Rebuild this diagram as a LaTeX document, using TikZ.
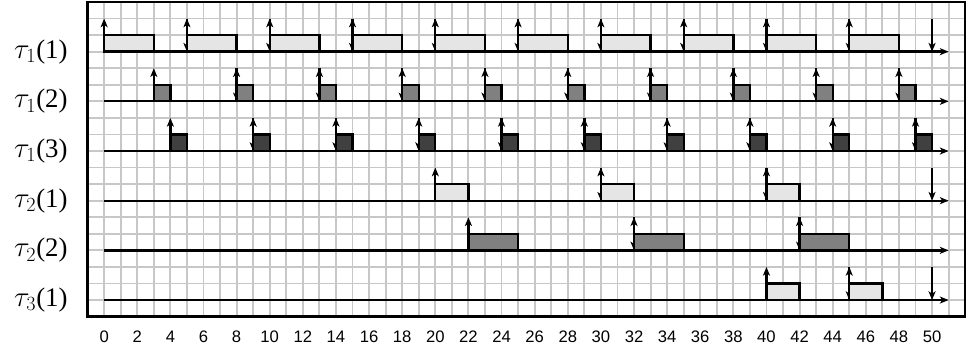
\documentclass[tikz,border=0pt]{standalone}
\usepackage{fontspec}
\setmainfont{Liberation Serif}
\setsansfont{Liberation Sans}
\usetikzlibrary{arrows.meta}

\begin{document}
\begin{tikzpicture}[x=0.5cm, y=0.5cm, >={Stealth[length=7.5pt, width=6pt, inset=2pt]},
  gridline/.style={black!22, line width=1.6pt},
  blackline/.style={line width=2pt},
  job/.style={draw, line width=2pt},
  lightjob/.style={job, fill=black!10},
  midjob/.style={job, fill=black!50},
  darkjob/.style={job, fill=black!75},
  rowlabel/.style={anchor=east, inner sep=0pt, font=\fontsize{23}{23}\selectfont},
  ticklabel/.style={inner sep=0pt, font=\sffamily\fontsize{14.3}{14.3}\selectfont}]
  \useasboundingbox (-6.29,-2.06) rectangle (52.05,19.12);

  % grid and frame
  \draw[gridline, step=0.5cm] (-1,0) grid (52,19);
  \draw[blackline] (-1,0) rectangle (52,19);

  % time lines and labels
  \foreach \y/\i/\k in {16/1/1, 13/1/2, 10/1/3, 7/2/1, 4/2/2, 1/3/1} {
    \node[rowlabel] (lab\i\k) at (-2.2,\y) {$\tau_{\i}$(\k)};
    \draw[->, blackline] (0,\y) -- (51,\y);
  }

  % tau_1(1): releases every 5, runs 3
  \foreach \d in {5,10,...,50} \draw[->, blackline] (\d,18) -- (\d,16);
  \foreach \r in {0,5,...,45} {
    \draw[lightjob] (\r,16) rectangle (\r+3,17);
    \draw[->, blackline] (\r,16) -- (\r,18);
  }

  % tau_1(2)
  \foreach \d in {8,13,...,48} \draw[->, blackline] (\d,15) -- (\d,13);
  \foreach \r in {3,8,...,48} {
    \draw[midjob] (\r,13) rectangle (\r+1,14);
    \draw[->, blackline] (\r,13) -- (\r,15);
  }

  % tau_1(3)
  \foreach \d in {9,14,...,49} \draw[->, blackline] (\d,12) -- (\d,10);
  \foreach \r in {4,9,...,49} {
    \draw[darkjob] (\r,10) rectangle (\r+1,11);
    \draw[->, blackline] (\r,10) -- (\r,12);
  }

  % tau_2(1)
  \foreach \d in {30,40,50} \draw[->, blackline] (\d,9) -- (\d,7);
  \foreach \r in {20,30,40} {
    \draw[lightjob] (\r,7) rectangle (\r+2,8);
    \draw[->, blackline] (\r,7) -- (\r,9);
  }

  % tau_2(2)
  \foreach \d in {32,42} \draw[->, blackline] (\d,6) -- (\d,4);
  \foreach \r in {22,32,42} {
    \draw[midjob] (\r,4) rectangle (\r+3,5);
    \draw[->, blackline] (\r,4) -- (\r,6);
  }

  % tau_3(1)
  \foreach \d in {45,50} \draw[->, blackline] (\d,3) -- (\d,1);
  \foreach \r in {40,45} {
    \draw[lightjob] (\r,1) rectangle (\r+2,2);
    \draw[->, blackline] (\r,1) -- (\r,3);
  }

  % time axis numbers
  \foreach \t in {0,2,...,50} \node[ticklabel] (tick\t) at (\t,-1.2) {\t};
\end{tikzpicture}
\end{document}
